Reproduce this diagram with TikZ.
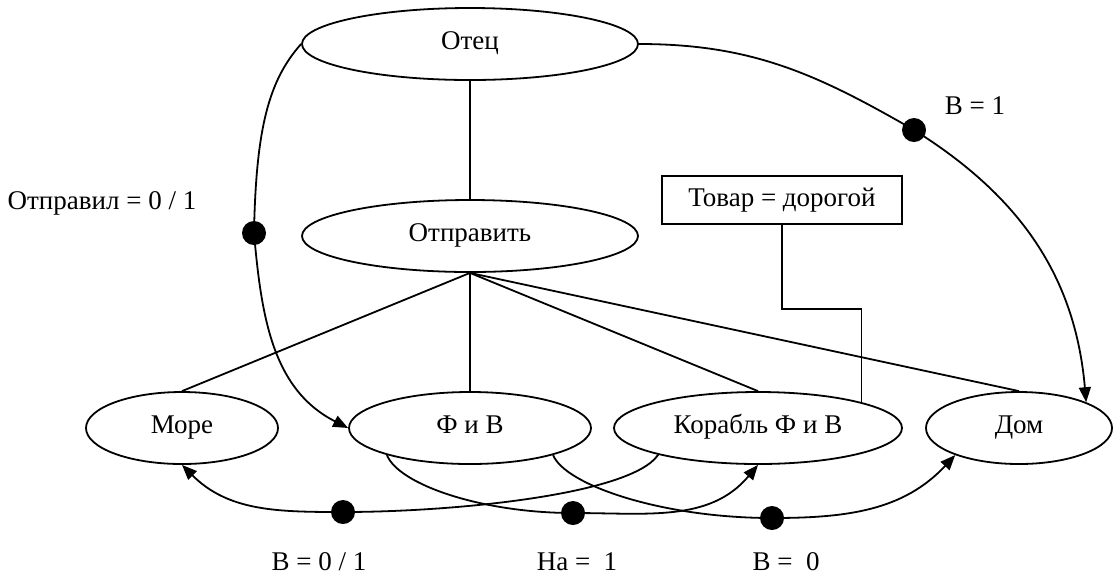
\documentclass[tikz,border=0pt]{standalone}
\usepackage{fontspec}
\setmainfont{Liberation Serif}
\usetikzlibrary{shapes.geometric,arrows.meta}

\begin{document}
\begin{tikzpicture}[x=0.5pt,y=0.5pt,line width=0.9pt,
  font=\fontsize{13.5}{15}\selectfont,
  state/.style={draw,ellipse,inner sep=0pt,minimum height=36pt,text height=1.55ex,text depth=.25ex},
  cond/.style={draw,rectangle,inner sep=0pt,minimum width=120pt,minimum height=24pt},
  dot/.style={circle,fill=black,inner sep=0pt,minimum size=12pt},
  arr/.style={-{Triangle[length=7.5pt,width=6pt]}}]

\useasboundingbox (0,0) rectangle (1113,-575);

\node[state,minimum width=168pt] (otec) at (470,-44) {Отец};
\node[state,minimum width=168pt] (otpr) at (470,-236) {Отправить};
\node[state,minimum width=96pt] (more) at (182,-428) {Море};
\node[state,minimum width=121pt] (fiv) at (470,-428) {Ф и В};
\node[state,minimum width=144pt] (kor) at (758,-428) {Корабль Ф и В};
\node[state,minimum width=93pt] (dom) at (1019,-428) {Дом};
\node[cond] (tovar) at (782,-200) {Товар = дорогой};

\node[dot] (dOtpr) at (254,-233) {};
\node[dot] (dV1) at (914,-130) {};
\node[dot] (dV01) at (343,-512) {};
\node[dot] (dNa) at (573,-513) {};
\node[dot] (dV0) at (772,-518) {};

\node (lOtpr) at (102,-203) {Отправил = 0 / 1};
\node (lV1) at (975,-106) {В = 1};
\node (lV01) at (319,-562) {В = 0 / 1};
\node (lNa) at (577,-562) {На =\ \ 1};
\node (lV0) at (786,-562) {В =\ \ 0};

\draw (otec.south) -- (otpr.north);
\draw (otpr.south) -- (more.north);
\draw (otpr.south) -- (fiv.north);
\draw (otpr.south) -- (kor.north);
\draw (otpr.south) -- (dom.north);
\draw (tovar.south) -- ++(0,-84) -| (kor.14);

\draw[arr] (otec.west) .. controls +(-32,-36) and +(2,106) .. (dOtpr.center) to[out=-85,in=153] (fiv.west);
\draw[arr] (otec.east) to[out=0,in=150] (dV1.center) to[out=-32,in=95] (dom.21);

\draw[arr] (kor.195) .. controls +(-27,-40) and +(110,0) .. (dV01.center) to[out=180,in=-45] (more.south);
\draw[arr] (fiv.198) .. controls +(12,-30) and +(-90,0) .. (dNa.center) to[out=0,in=230] (kor.south);
\draw[arr] (fiv.-18) .. controls +(12,-30) and +(-110,0) .. (dV0.center) to[out=0,in=227] (dom.203);
\end{tikzpicture}
\end{document}
